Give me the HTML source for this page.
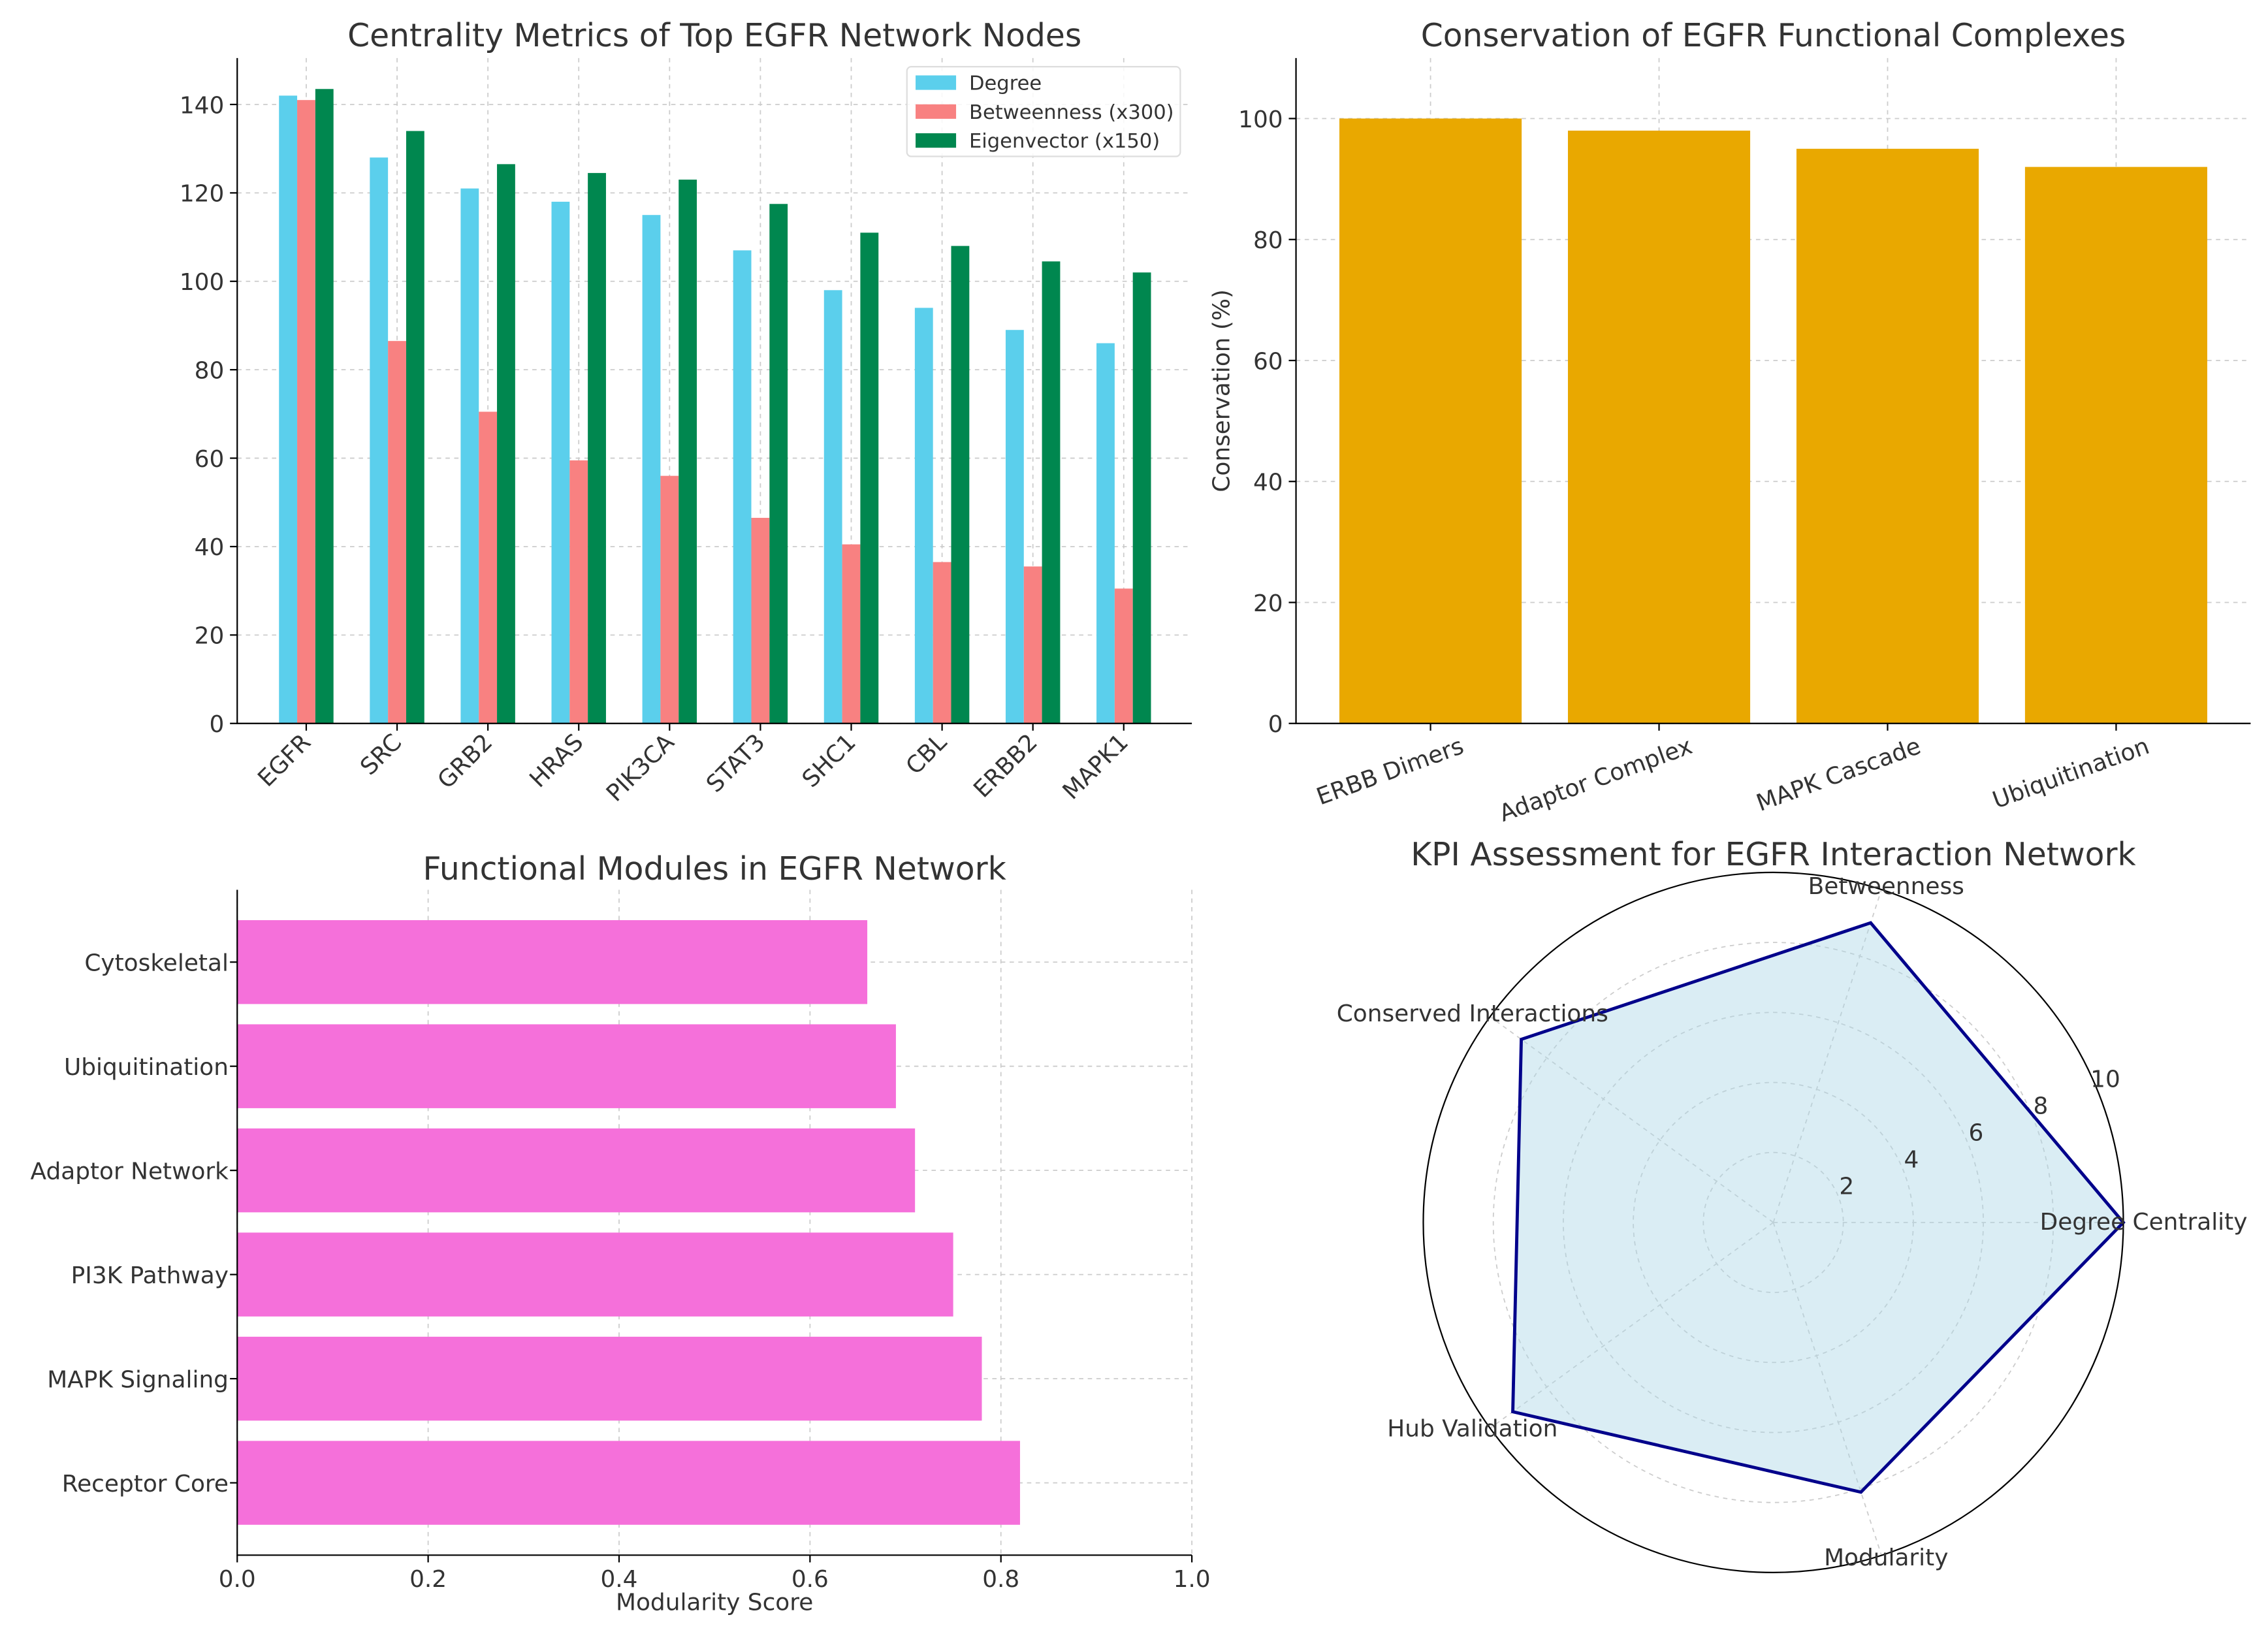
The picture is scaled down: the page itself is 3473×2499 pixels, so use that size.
<!DOCTYPE html>
<html><head><meta charset="utf-8"><style>
html,body{margin:0;padding:0;background:#fff;}
svg{display:block;font-family:"DejaVu Sans","Liberation Sans",sans-serif;}
</style></head><body>
<svg id="root" width="3473" height="2499" viewBox="0 0 1568 1128" xmlns="http://www.w3.org/2000/svg"></svg>
<script>
// ---- Chart 1 data
const nodes = ["EGFR","SRC","GRB2","HRAS","PIK3CA","STAT3","SHC1","CBL","ERBB2","MAPK1"];
const degreeVals = [142,128,121,118,115,107,98,94,89,86];
const betweenVals = [141,86.5,70.5,59.5,56,46.5,40.5,36.5,35.5,30.5];
const eigenVals = [143.5,134,126.5,124.5,123,117.5,111,108,104.5,102];
const c1Ticks = [0,20,40,60,80,100,120,140];
// ---- Chart 2 data
const complexes = ["ERBB Dimers","Adaptor Complex","MAPK Cascade","Ubiquitination"];
const conservVals = [100,98,95,92];
const c2Ticks = [0,20,40,60,80,100];
// ---- Chart 3 data
const modules = ["Receptor Core","MAPK Signaling","PI3K Pathway","Adaptor Network","Ubiquitination","Cytoskeletal"];
const modVals = [0.82,0.78,0.75,0.71,0.69,0.66];
const c3Ticks = [0,0.2,0.4,0.6,0.8,1.0];
// ---- Chart 4 data
const kpis = ["Degree Centrality","Betweenness","Conserved Interactions","Hub Validation","Modularity"];
const kpiVals = [10,9.0,8.9,9.2,8.1];
const rTicks = [2,4,6,8,10];

const NS="http://www.w3.org/2000/svg";
const root=document.getElementById('root');
function mk(tag,attrs,parent,text){const e=document.createElementNS(NS,tag);for(const k in attrs)e.setAttribute(k,attrs[k]);if(text!==undefined)e.textContent=text;(parent||root).appendChild(e);return e;}
const TC="#333", GRID="#cccccc", FS=16.2, TFS=22;

// ================= Chart 1
(function(){
 const g=mk('g',{});
 
 
 const L=164,R=824,T=40,B=500, xmin=-0.76,xmax=9.75, ymax=150.5;
 const xs=v=>L+(v-xmin)/(xmax-xmin)*(R-L);
 const ys=v=>B-v/ymax*(B-T);
 c1Ticks.forEach(t=>{
  const l=mk('line',{x1:L,x2:R,y1:ys(t),y2:ys(t),stroke:GRID,'stroke-dasharray':'3,3','stroke-width':0.8},g);
  
  mk('line',{x1:L-5,x2:L,y1:ys(t),y2:ys(t),stroke:'#000'},g);
  const tx=mk('text',{x:L-9,y:ys(t)+6,'text-anchor':'end','font-size':FS,fill:TC},g,t);
  
 });
 nodes.forEach((n,i)=>{
  const l=mk('line',{x1:xs(i),x2:xs(i),y1:T,y2:B,stroke:GRID,'stroke-dasharray':'3,3','stroke-width':0.8},g);
  
 });
 const w=0.2;
 const series=[[degreeVals,'#5BCFEC',-w,'degree'],[betweenVals,'#F88181',0,'betweenness'],[eigenVals,'#00874F',w,'eigenvector']];
 series.forEach(([vals,col,off,nm])=>{
  vals.forEach((v,i)=>{
   const x0=xs(i+off-w/2),x1=xs(i+off+w/2);
   const r=mk('rect',{x:x0,y:ys(v),width:x1-x0,height:B-ys(v),fill:col},g);
   
  });
 });
 nodes.forEach((n,i)=>{
  mk('line',{x1:xs(i),x2:xs(i),y1:B,y2:B+5,stroke:'#000'},g);
  const tx=mk('text',{x:xs(i)+4,y:B+14,'text-anchor':'end','font-size':FS,fill:TC,transform:`rotate(-45 ${xs(i)+4} ${B+14})`},g,n);
  
 });
 mk('path',{d:`M${L} ${T}V${B}H${R}`,fill:'none',stroke:'#000','stroke-width':1},g);
 const t=mk('text',{x:(L+R)/2,y:32,'text-anchor':'middle','font-size':TFS,fill:TC},g,'Centrality Metrics of Top EGFR Network Nodes');
 
 const lg=mk('g',{},g);
 mk('rect',{x:627,y:46,width:189,height:62,rx:3,fill:'#fff','fill-opacity':0.85,stroke:'#ddd'},lg);
 const labs=['Degree','Betweenness (x300)','Eigenvector (x150)'];
 series.forEach((s,i)=>{
  const y=57+i*20;
  mk('rect',{x:633,y:y-5,width:28,height:10,fill:s[1]},lg);
  const e=mk('text',{x:670,y:y+5,'font-size':13.8,fill:TC},lg,labs[i]);
  
 });
})();

// ================= Chart 2
(function(){
 const g=mk('g',{});
 
 
 const L=896,R=1556,T=40,B=500,ymax=110;
 const ys=v=>B-v/ymax*(B-T);
 const step=158, x0=989, bw=126;
 const xs=i=>x0+i*step;
 c2Ticks.forEach(t=>{
  mk('line',{x1:L,x2:R,y1:ys(t),y2:ys(t),stroke:GRID,'stroke-dasharray':'3,3','stroke-width':0.8},g);
  mk('line',{x1:L-5,x2:L,y1:ys(t),y2:ys(t),stroke:'#000'},g);
  const tx=mk('text',{x:L-9,y:ys(t)+6,'text-anchor':'end','font-size':FS,fill:TC},g,t);
  
 });
 complexes.forEach((c,i)=>{
  mk('line',{x1:xs(i),x2:xs(i),y1:T,y2:B,stroke:GRID,'stroke-dasharray':'3,3','stroke-width':0.8},g);
 });
 conservVals.forEach((v,i)=>{
  const r=mk('rect',{x:xs(i)-bw/2,y:ys(v),width:bw,height:B-ys(v),fill:'#E9A800'},g);
  
 });
 complexes.forEach((c,i)=>{
  mk('line',{x1:xs(i),x2:xs(i),y1:B,y2:B+5,stroke:'#000'},g);
  const tx=mk('text',{x:xs(i)+24,y:B+20,'text-anchor':'end','font-size':FS,fill:TC,transform:`rotate(-20 ${xs(i)+24} ${B+20})`},g,c);
  
 });
 mk('path',{d:`M${L} ${T}V${B}H${R}`,fill:'none',stroke:'#000'},g);
 const yl=mk('text',{x:850,y:270,'text-anchor':'middle','font-size':FS,fill:TC,transform:'rotate(-90 850 270)'},g,'Conservation (%)');
 
 const t=mk('text',{x:(L+R)/2,y:32,'text-anchor':'middle','font-size':TFS,fill:TC},g,'Conservation of EGFR Functional Complexes');
 
})();

// ================= Chart 3
(function(){
 const g=mk('g',{});
 
 
 const L=164,R=824,T=615,B=1075;
 const xs=v=>L+v*(R-L);
 const y0=1025, step=72, bh=58;
 const ys=i=>y0-i*step;
 c3Ticks.forEach(t=>{
  mk('line',{x1:xs(t),x2:xs(t),y1:T,y2:B,stroke:GRID,'stroke-dasharray':'3,3','stroke-width':0.8},g);
  mk('line',{x1:xs(t),x2:xs(t),y1:B,y2:B+5,stroke:'#000'},g);
  const tx=mk('text',{x:xs(t),y:B+22,'text-anchor':'middle','font-size':FS,fill:TC},g,t.toFixed(1));
  
 });
 modules.forEach((m,i)=>{
  mk('line',{x1:L,x2:R,y1:ys(i),y2:ys(i),stroke:GRID,'stroke-dasharray':'3,3','stroke-width':0.8},g);
 });
 modVals.forEach((v,i)=>{
  const r=mk('rect',{x:L,y:ys(i)-bh/2,width:xs(v)-L,height:bh,fill:'#F570DA'},g);
  
 });
 modules.forEach((m,i)=>{
  mk('line',{x1:L-5,x2:L,y1:ys(i),y2:ys(i),stroke:'#000'},g);
  const tx=mk('text',{x:L-6,y:ys(i)+6,'text-anchor':'end','font-size':FS,fill:TC},g,m);
  
 });
 mk('path',{d:`M${L} ${T}V${B}H${R}`,fill:'none',stroke:'#000'},g);
 const xl=mk('text',{x:(L+R)/2,y:1113,'text-anchor':'middle','font-size':FS,fill:TC},g,'Modularity Score');
 
 const t=mk('text',{x:(L+R)/2,y:608,'text-anchor':'middle','font-size':TFS,fill:TC},g,'Functional Modules in EGFR Network');
 
})();

// ================= Chart 4 radar
(function(){
 const g=mk('g',{});
 
 
 const cx=1226,cy=845,R=242,rmax=10;
 const rs=v=>v/rmax*R;
 const pt=(ang,v)=>[cx+rs(v)*Math.cos(ang*Math.PI/180),cy-rs(v)*Math.sin(ang*Math.PI/180)];
 rTicks.slice(0,-1).forEach(t=>{
  mk('circle',{cx,cy,r:rs(t),fill:'none',stroke:GRID,'stroke-dasharray':'3,3','stroke-width':0.8},g);
 });
 const n=kpis.length;
 kpis.forEach((k,i)=>{
  const [x,y]=pt(i*360/n,rmax);
  mk('line',{x1:cx,y1:cy,x2:x,y2:y,stroke:GRID,'stroke-dasharray':'3,3','stroke-width':0.8},g);
 });
 const pts=kpiVals.map((v,i)=>pt(i*360/n,v));
 const poly=mk('polygon',{points:pts.map(p=>p.join(',')).join(' '),fill:'#ADD8E6','fill-opacity':0.45,stroke:'#00008B','stroke-width':2.2},g);
 
 mk('circle',{cx,cy,r:R,fill:'none',stroke:'#000','stroke-width':1},g);
 rTicks.forEach(t=>{
  const [x,y]=pt(22.5,t);
  const tx=mk('text',{x:x+6,y:y-1,'text-anchor':'middle','font-size':FS,fill:TC},g,t);
  
 });
 const lpos=[[1482,850,'middle'],[1304,618,'middle'],[1018,706,'middle'],[1018,993,'middle'],[1304,1082,'middle']];
 kpis.forEach((k,i)=>{
  const tx=mk('text',{x:lpos[i][0],y:lpos[i][1],'text-anchor':lpos[i][2],'font-size':FS,fill:TC},g,k);
  
 });
 const t=mk('text',{x:cx,y:598,'text-anchor':'middle','font-size':TFS,fill:TC},g,'KPI Assessment for EGFR Interaction Network');
 
})();
</script>
</body></html>
